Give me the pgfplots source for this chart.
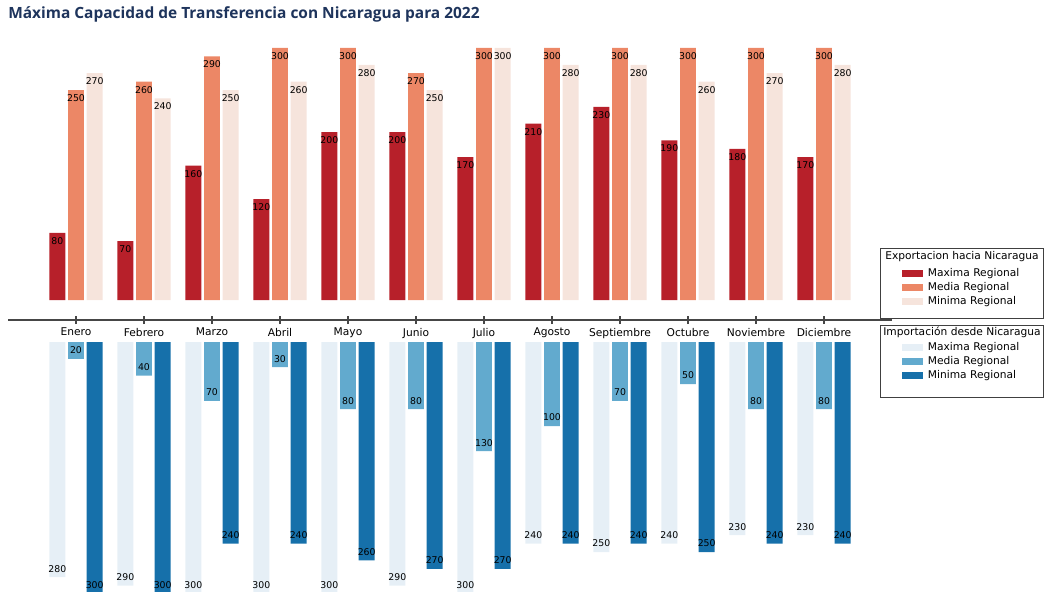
\documentclass[border=0pt]{standalone}
\usepackage{fontspec}
\setmainfont{DejaVu Sans}
\newfontfamily\titlefont{Open Sans}
\usepackage{pgfplots}
\usepackage{pgfplotstable}
\pgfplotsset{compat=1.18}

\definecolor{expmax}{RGB}{183,32,42}
\definecolor{expmed}{RGB}{236,135,102}
\definecolor{expmin}{RGB}{246,228,220}
\definecolor{impmax}{RGB}{230,239,246}
\definecolor{impmed}{RGB}{98,170,206}
\definecolor{impmin}{RGB}{22,112,170}
\definecolor{titleblue}{RGB}{30,52,92}
\definecolor{axisgray}{RGB}{70,70,70}

% MW por mes: exportacion (arriba) e importacion (abajo)
\pgfplotstableread{
x mes expmax expmed expmin impmax impmed impmin
0  Enero      80  250 270 280 20  300
1  Febrero    70  260 240 290 40  300
2  Marzo      160 290 250 300 70  240
3  Abril      120 300 260 300 30  240
4  Mayo       200 300 280 300 80  260
5  Junio      200 270 250 290 80  270
6  Julio      170 300 300 300 130 270
7  Agosto     210 300 280 240 100 240
8  Septiembre 230 300 280 250 70  240
9  Octubre    190 300 260 240 50  250
10 Noviembre  180 300 270 230 80  240
11 Diciembre  170 300 280 230 80  240
}\datos

\pgfplotsset{
  barra/.style={ybar, bar width=0.235, draw=none, fill=#1,
    legend image code/.code={\fill[#1] (0pt,-2.6pt) rectangle (16pt,2.6pt);}},
}
% etiquetas dentro del extremo de cada barra
\tikzset{
  etiq/.style={font=\fontsize{7}{8}\selectfont, text=black, inner sep=1pt},
  arriba/.style={etiq, anchor=north, yshift=-2.2pt, xshift=#1},
  abajo/.style={etiq, anchor=south, yshift=2.6pt, xshift=#1},
}

\begin{document}
\begin{tikzpicture}
\useasboundingbox (0,0) rectangle (785.25pt,-444pt);

% exportacion hacia Nicaragua
\begin{axis}[
    at={(6pt,-240pt)}, anchor=south west,
    scale only axis, width=663pt, height=210.3pt,
    xmin=-1, xmax=12, ymin=-23.8, ymax=310,
    clip=false,
    axis x line=bottom, axis y line=none,
    x axis line style={-, axisgray, line width=1.1pt},
    xtick={0,...,11},
    xticklabels from table={\datos}{mes},
    tick align=center, major tick length=6pt,
    every tick/.style={axisgray, line width=1pt},
    xticklabel style={font=\fontsize{8}{9}\selectfont, yshift=0.5pt},
    /pgf/number format/assume math mode=true,
    legend cell align=left,
    legend style={at={(axis cs:12.14,40.5)}, anchor=north west,
      draw=none, fill=none, inner sep=0pt, row sep=0pt,
      font=\fontsize{8}{9}\selectfont,
      nodes={inner sep=1.6pt, text height=5.8pt, text depth=1.6pt}},
  ]
  \addplot[barra=expmax, bar shift=-0.275, nodes near coords,
    every node near coord/.append style={arriba=-14pt}]
    table[x=x, y=expmax] {\datos};
  \addlegendentry{\hspace{2pt}Maxima Regional}
  \addplot[barra=expmed, bar shift=0, nodes near coords,
    every node near coord/.append style={arriba=0pt}]
    table[x=x, y=expmed] {\datos};
  \addlegendentry{\hspace{2pt}Media Regional}
  \addplot[barra=expmin, bar shift=0.275, nodes near coords,
    every node near coord/.append style={arriba=14pt}]
    table[x=x, y=expmin] {\datos};
  \addlegendentry{\hspace{2pt}Minima Regional}
\end{axis}

% importacion desde Nicaragua
\begin{axis}[
    at={(6pt,-256.5pt)}, anchor=north west,
    scale only axis, width=663pt, height=195.3pt,
    xmin=-1, xmax=12, ymin=0, ymax=310,
    y dir=reverse,
    clip=false,
    hide axis,
    /pgf/number format/assume math mode=true,
    legend cell align=left,
    legend style={at={(axis cs:12.14,-2.4)}, anchor=north west,
      draw=none, fill=none, inner sep=0pt, row sep=0pt,
      font=\fontsize{8}{9}\selectfont,
      nodes={inner sep=1.6pt, text height=5.8pt, text depth=1.6pt}},
  ]
  \addplot[barra=impmax, bar shift=-0.275, nodes near coords,
    every node near coord/.append style={abajo=-14pt}]
    table[x=x, y=impmax] {\datos};
  \addlegendentry{\hspace{2pt}Maxima Regional}
  \addplot[barra=impmed, bar shift=0, nodes near coords,
    every node near coord/.append style={abajo=0pt}]
    table[x=x, y=impmed] {\datos};
  \addlegendentry{\hspace{2pt}Media Regional}
  \addplot[barra=impmin, bar shift=0.275, nodes near coords,
    every node near coord/.append style={abajo=14pt}]
    table[x=x, y=impmin] {\datos};
  \addlegendentry{\hspace{2pt}Minima Regional}
\end{axis}

% titulo y marcos de las leyendas
\node[anchor=west, inner sep=0pt, text=titleblue, font=\titlefont\bfseries\fontsize{11.6}{13}\selectfont]
  at (6pt,-10.8pt) {Máxima Capacidad de Transferencia con Nicaragua para 2022};
\draw[black!75, line width=0.7pt] (660pt,-186pt) rectangle (782.25pt,-238.5pt);
\draw[black!75, line width=0.7pt] (660pt,-243.75pt) rectangle (782.25pt,-297.75pt);
\node[font=\fontsize{8}{9}\selectfont, inner sep=0pt] at (721.5pt,-192.75pt) {Exportacion hacia Nicaragua};
\node[font=\fontsize{8}{9}\selectfont, inner sep=0pt] at (721.5pt,-249pt) {Importación desde Nicaragua};
\end{tikzpicture}
\end{document}
